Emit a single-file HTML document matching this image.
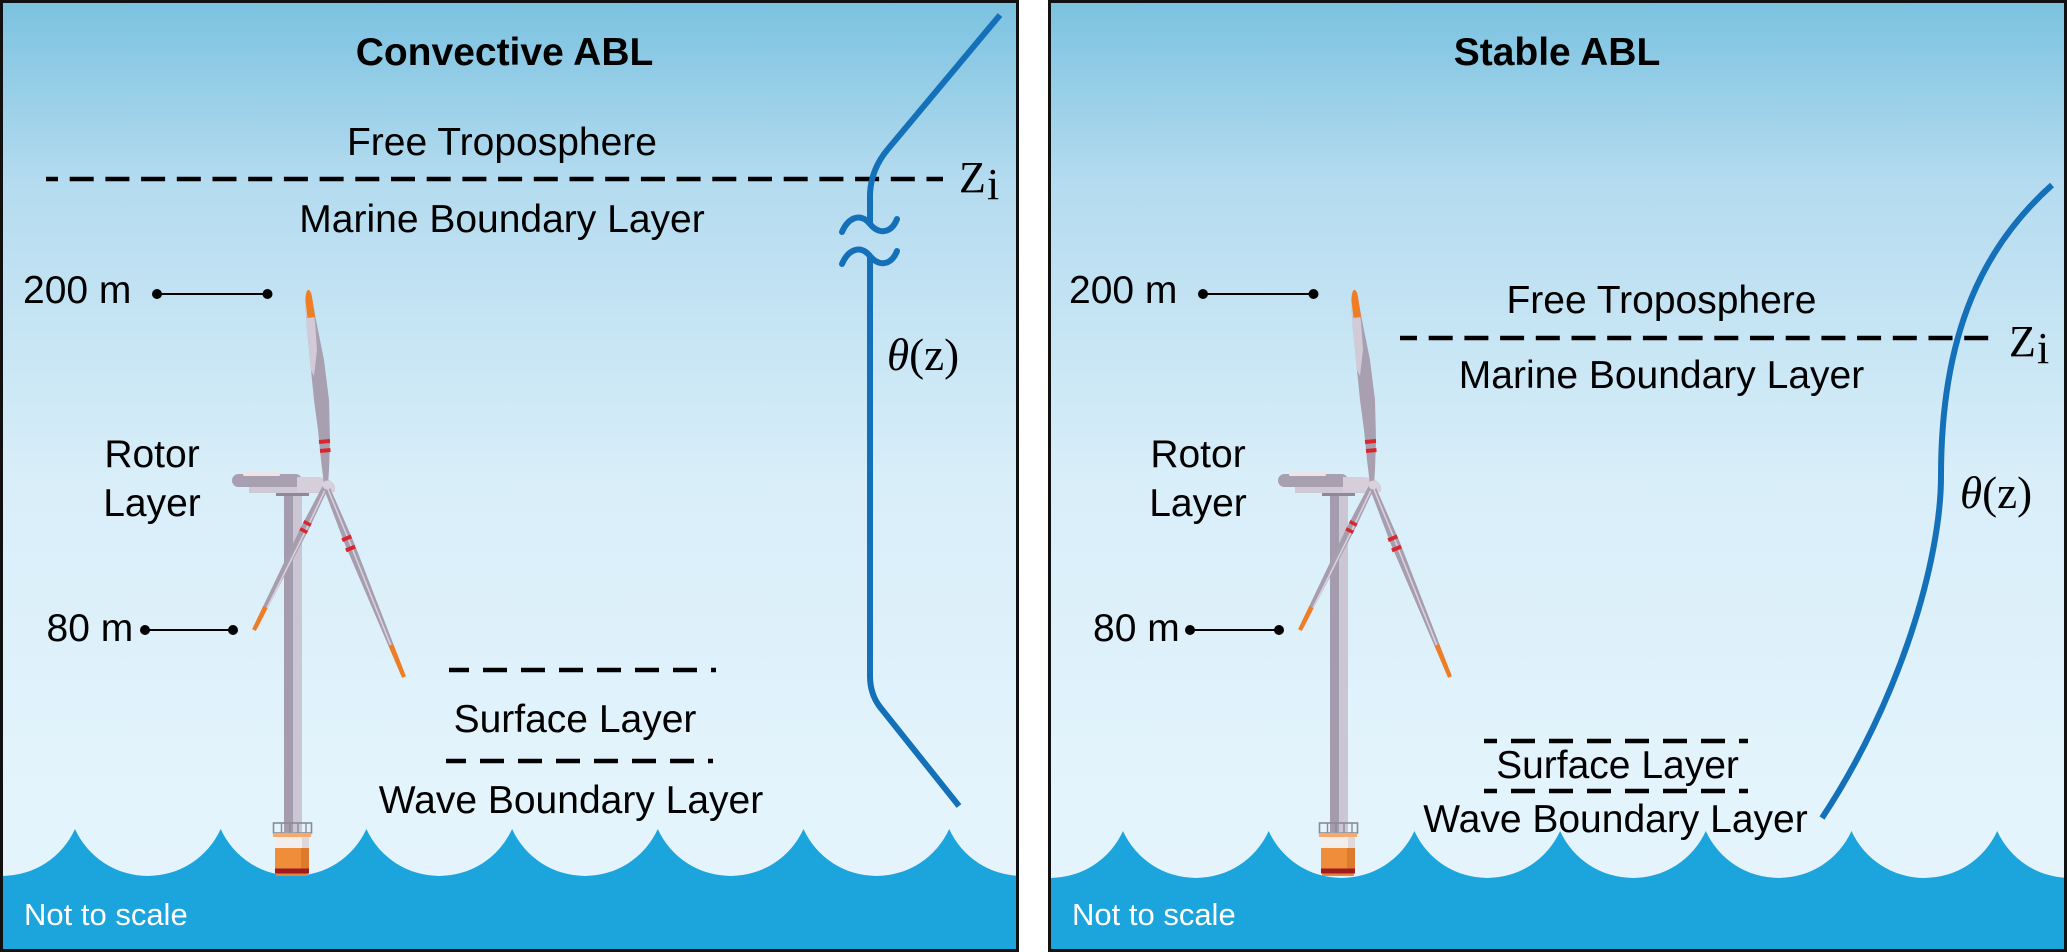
<!DOCTYPE html>
<html>
<head>
<meta charset="utf-8">
<style>
html,body{margin:0;padding:0;background:#ffffff;}
svg{display:block;}
.s{font-family:"Liberation Sans",Arial,sans-serif;font-size:39px;fill:#000;}
.b{font-weight:bold;}
.m{font-family:"Liberation Serif","Times New Roman",serif;font-size:44px;fill:#000;}
.t{font-family:"Liberation Serif","Times New Roman",serif;font-size:45px;fill:#000;}
.n{font-family:"Liberation Sans",Arial,sans-serif;font-size:31px;fill:#fff;}
</style>
</head>
<body>
<svg width="2067" height="952" viewBox="0 0 2067 952" xmlns="http://www.w3.org/2000/svg">
<defs>
<linearGradient id="sky" x1="0" y1="0" x2="0" y2="952" gradientUnits="userSpaceOnUse">
<stop offset="0" stop-color="#7ac2e0"/>
<stop offset="0.19" stop-color="#b4dbef"/>
<stop offset="0.5" stop-color="#d8eef9"/>
<stop offset="0.85" stop-color="#e4f4fc"/>
<stop offset="1" stop-color="#e6f5fd"/>
</linearGradient>
<clipPath id="cl"><rect x="0" y="0" width="1019" height="952"/></clipPath>
<clipPath id="cr"><rect x="1048" y="0" width="1019" height="952"/></clipPath>
<path id="wave" d="M -70.7 829 A 80 80 0 0 0 75 829 A 80 80 0 0 0 220.7 829 A 80 80 0 0 0 366.4 829 A 80 80 0 0 0 512.1 829 A 80 80 0 0 0 657.8 829 A 80 80 0 0 0 803.5 829 A 80 80 0 0 0 949.2 829 A 80 80 0 0 0 1094.9 829 L 1094.9 952 L -70.7 952 Z" fill="#1ca4dd"/>
<g id="turb">
  <!-- tower -->
  <rect x="284" y="494" width="9" height="338" fill="#a49cae"/>
  <rect x="293" y="494" width="9" height="338" fill="#cbc6d4"/>
  <rect x="276" y="492" width="33" height="4" fill="#8f889b"/>
  <!-- nacelle -->
  <rect x="249" y="484" width="72" height="9" fill="#cfc8d5"/>
  <rect x="232" y="474" width="70" height="13" rx="6.5" fill="#a89fb1"/>
  <rect x="243" y="471" width="37" height="5" rx="1.5" fill="#ede4ea"/>
  <path d="M297 477 L318 477 Q331 478 335 486 L335 492 L297 492 Z" fill="#d6cfdb"/>
  <!-- lower left blade -->
  <polygon points="328.7,487.3 308,531 255.8,630.9 252.2,629.1 300.8,527.4 323.3,484.7" fill="#a69daf"/>
  <polyline points="326,488 306,530 257,628" fill="none" stroke="#d9d1dc" stroke-width="1.6"/>
  <polygon points="267.6,608.1 255.8,630.9 252.2,629.1 263.4,605.9" fill="#ef7d22"/>
  <line x1="303.7" y1="521.6" x2="310.9" y2="525.2" stroke="#d7282f" stroke-width="3.5"/>
  <line x1="300.1" y1="528.8" x2="307.3" y2="532.4" stroke="#d7282f" stroke-width="3.5"/>
  <!-- lower right blade -->
  <polygon points="328.8,484.9 353.6,541.6 405.9,676.2 402.1,677.8 345.2,545 323.2,487.1" fill="#a69daf"/>
  <polyline points="327,487 350,543 403,676" fill="none" stroke="#d9d1dc" stroke-width="1.6"/>
  <polygon points="393.2,644.1 405.9,676.2 402.1,677.8 388.6,645.9" fill="#ef7d22"/>
  <line x1="342.1" y1="540.2" x2="351.3" y2="536.4" stroke="#d7282f" stroke-width="4"/>
  <line x1="345.9" y1="550.4" x2="355.1" y2="546.6" stroke="#d7282f" stroke-width="4"/>
  <!-- top blade -->
  <polygon points="306,293 311,292 316,320 324,360 329,400 330,440 329,470 328,485 324,485 321,460 318,430 314,400 311,370 307,330 305,300" fill="#a89fb1"/>
  <polygon points="306,293 311,292 315,322 317,350 314,376 311,370 307,330 305,300" fill="#d3cad8"/>
  <path d="M305.5 300 Q306 289 309 290 Q311 291 312 297 L315 317 L307.5 318 Z" fill="#ef7d22"/>
  <line x1="319" y1="442" x2="330" y2="441" stroke="#d7282f" stroke-width="4"/>
  <line x1="320" y1="451" x2="330.5" y2="450" stroke="#d7282f" stroke-width="4"/>
  <circle cx="327" cy="485" r="4.5" fill="#d9d2de"/>
  <!-- railing -->
  <rect x="273.5" y="823" width="38" height="10" fill="none" stroke="#8a8a94" stroke-width="1.6"/>
  <line x1="281.5" y1="823" x2="281.5" y2="833" stroke="#8a8a94" stroke-width="1.4"/>
  <line x1="290" y1="823" x2="290" y2="833" stroke="#8a8a94" stroke-width="1.4"/>
  <line x1="298" y1="823" x2="298" y2="833" stroke="#8a8a94" stroke-width="1.4"/>
  <line x1="306" y1="823" x2="306" y2="833" stroke="#8a8a94" stroke-width="1.4"/>
  <!-- transition piece -->
  <rect x="273" y="833" width="38" height="4" fill="#f6a96b"/>
  <rect x="275" y="837" width="34" height="11" fill="#f3eeee"/>
  <rect x="302" y="837" width="7" height="11" fill="#dcd8dc"/>
  <rect x="275" y="848" width="34" height="20.5" fill="#f08d3a"/>
  <rect x="301" y="848" width="8" height="20.5" fill="#dd7a2c"/>
  <rect x="275" y="868.5" width="34" height="5" fill="#9e1b20"/>
  <rect x="276" y="873.5" width="32" height="2.5" rx="1" fill="#e8833a"/>
</g>
</defs>

<!-- LEFT PANEL -->
<rect x="0" y="0" width="1019" height="952" fill="url(#sky)"/>
<g clip-path="url(#cl)">
  <use href="#wave"/>
</g>

<text class="s b" x="504.5" y="65" text-anchor="middle">Convective ABL</text>
<text class="s" x="502" y="155" text-anchor="middle">Free Troposphere</text>
<line x1="46" y1="179" x2="943" y2="179" stroke="#000" stroke-width="4.5" stroke-dasharray="24 11.7" stroke-dashoffset="12"/>
<text class="s" x="502" y="232" text-anchor="middle">Marine Boundary Layer</text>
<text class="m" x="959" y="192">Z</text><text class="m" x="987" y="199">i</text>

<text class="s" x="23" y="303">200 m</text>
<line x1="157" y1="294" x2="267.5" y2="294" stroke="#000" stroke-width="2"/>
<circle cx="157" cy="294" r="5" fill="#000"/>
<circle cx="267.5" cy="294" r="5" fill="#000"/>
<text class="s" x="152" y="467" text-anchor="middle">Rotor</text>
<text class="s" x="152" y="516" text-anchor="middle">Layer</text>
<text class="s" x="46.5" y="641">80 m</text>
<line x1="145" y1="630" x2="233" y2="630" stroke="#000" stroke-width="2"/>
<circle cx="145" cy="630" r="5" fill="#000"/>
<circle cx="233" cy="630" r="5" fill="#000"/>

<line x1="449" y1="670" x2="716" y2="670" stroke="#000" stroke-width="4.5" stroke-dasharray="24 14" stroke-dashoffset="4"/>
<text class="s" x="575" y="732" text-anchor="middle">Surface Layer</text>
<line x1="446" y1="761" x2="713" y2="761" stroke="#000" stroke-width="4.5" stroke-dasharray="24 14" stroke-dashoffset="4"/>
<text class="s" x="571" y="813" text-anchor="middle">Wave Boundary Layer</text>
<text class="n" x="24" y="925">Not to scale</text>

<g fill="none" stroke="#1470b8" stroke-width="6">
  <path d="M 1000 15 L 888 149 Q 871 169 870 194 L 870 224"/>
  <path d="M 842 232 C 848 218, 860 212, 870 224 C 880 236, 892 232, 897 219" stroke-linecap="round"/>
  <path d="M 842 264 C 848 250, 860 244, 870 256 C 880 268, 892 264, 897 251" stroke-linecap="round"/>
  <path d="M 870 256 L 870 676 Q 870 694 880 707 L 959 806"/>
</g>
<text class="t" x="887" y="370"><tspan font-style="italic">θ</tspan>(z)</text>

<use href="#turb"/>

<rect x="1.5" y="1.5" width="1016" height="949" fill="none" stroke="#111" stroke-width="3"/>

<!-- RIGHT PANEL -->
<rect x="1048" y="0" width="1019" height="952" fill="url(#sky)"/>
<g clip-path="url(#cr)">
  <use href="#wave" transform="translate(1048,2)"/>
</g>

<text class="s b" x="1557" y="65" text-anchor="middle">Stable ABL</text>
<text class="s" x="1069" y="303">200 m</text>
<line x1="1203" y1="294" x2="1313.5" y2="294" stroke="#000" stroke-width="2"/>
<circle cx="1203" cy="294" r="5" fill="#000"/>
<circle cx="1313.5" cy="294" r="5" fill="#000"/>
<text class="s" x="1661.5" y="313" text-anchor="middle">Free Troposphere</text>
<line x1="1400" y1="338" x2="1996" y2="338" stroke="#000" stroke-width="4.5" stroke-dasharray="24 11.7" stroke-dashoffset="7"/>
<text class="m" x="2009" y="356">Z</text><text class="m" x="2037" y="363">i</text>
<text class="s" x="1661.5" y="388" text-anchor="middle">Marine Boundary Layer</text>
<text class="s" x="1198" y="467" text-anchor="middle">Rotor</text>
<text class="s" x="1198" y="516" text-anchor="middle">Layer</text>
<text class="s" x="1093" y="641">80 m</text>
<line x1="1190" y1="630" x2="1279" y2="630" stroke="#000" stroke-width="2"/>
<circle cx="1190" cy="630" r="5" fill="#000"/>
<circle cx="1279" cy="630" r="5" fill="#000"/>

<line x1="1484" y1="741" x2="1748" y2="741" stroke="#000" stroke-width="4.5" stroke-dasharray="24 14" stroke-dashoffset="11"/>
<text class="s" x="1617.5" y="778" text-anchor="middle">Surface Layer</text>
<line x1="1484" y1="791" x2="1748" y2="791" stroke="#000" stroke-width="4.5" stroke-dasharray="24 14" stroke-dashoffset="11"/>
<text class="s" x="1615.5" y="832" text-anchor="middle">Wave Boundary Layer</text>
<text class="n" x="1072" y="925">Not to scale</text>

<path d="M 2052 185 C 1985 245, 1941 330, 1941 476 C 1941 560, 1900 700, 1822 818" fill="none" stroke="#1470b8" stroke-width="6"/>
<text class="t" x="1960" y="508"><tspan font-style="italic">θ</tspan>(z)</text>

<use href="#turb" transform="translate(1046,0)"/>

<rect x="1049.5" y="1.5" width="1016" height="949" fill="none" stroke="#111" stroke-width="3"/>
</svg>
</body>
</html>
